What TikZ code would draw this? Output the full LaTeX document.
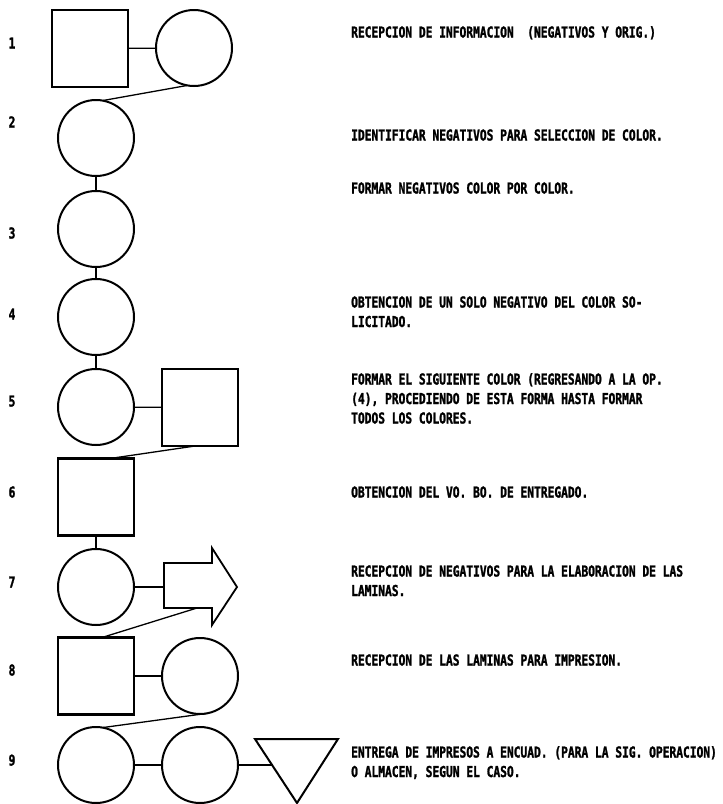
\documentclass[tikz,border=0pt]{standalone}
\usepackage{fontspec}
\newfontfamily\dm[FakeStretch=0.75,FakeBold=1.6]{DejaVu Sans Mono}
\begin{document}
\begin{tikzpicture}[x=1pt,y=-1pt,
  shp/.style={draw, line width=2pt, inner sep=0pt, outer sep=0pt},
  circ/.style={shp, circle, minimum size=76pt},
  sqr/.style={shp, line width=2.4pt, rectangle, minimum width=76pt, minimum height=77pt},
  conn/.style={line width=1.3pt},
  pfont/.style={font=\dm\bfseries\fontsize{15}{18}\selectfont, inner sep=0pt},
  lbl/.style={pfont, anchor=base},
  txt/.style={pfont, anchor=base west}]
\useasboundingbox (0,0) rectangle (723,804);

% row labels
\node[lbl] (l1) at (12,48.5) {1};
\node[lbl] (l2) at (12,127.5) {2};
\node[lbl] (l3) at (12,238.5) {3};
\node[lbl] (l4) at (12,319.5) {4};
\node[lbl] (l5) at (12,406.5) {5};
\node[lbl] (l6) at (12,497.5) {6};
\node[lbl] (l7) at (12,587.5) {7};
\node[lbl] (l8) at (12,675.5) {8};
\node[lbl] (l9) at (12,765.5) {9};

% shapes
\node[sqr] (sq1) at (90,48.5) {};
\node[circ] (c1) at (194,48) {};
\node[circ] (c2) at (96,138) {};
\node[circ] (c3) at (96,229) {};
\node[circ] (c4) at (96,317) {};
\node[circ] (c5) at (96,407) {};
\node[sqr] (sq5) at (200,407.5) {};
\node[sqr] (sq6) at (96,497) {};
\node[circ] (c7) at (96,587) {};
\node[sqr] (sq8) at (96,676) {};
\node[circ] (c8) at (200,676) {};
\node[circ] (c9a) at (96,765) {};
\node[circ] (c9b) at (200,765) {};

% arrow (transport)
\draw[line width=1.8pt, line join=miter]
  (164,563) -- (212,563) -- (212,548) -- (237,587) -- (212,625) -- (212,608) -- (164,608) -- cycle;
\coordinate (a7w) at (164,587);
\coordinate (a7b) at (197,608);

% triangle (storage)
\draw[line width=2pt, line join=miter] (255,739) -- (338,739) -- (297,803) -- cycle;
\coordinate (t9w) at (271.5,765);

% connectors
\draw[conn] (sq1) -- (c1);
\draw[conn] (c1.-100) -- (c2.80);
\draw[conn] (c2) -- (c3);
\draw[conn] (c3) -- (c4);
\draw[conn] (c4) -- (c5);
\draw[conn] (c5) -- (sq5);
\draw[conn] ([xshift=-5pt]sq5.south) -- ([xshift=14pt]sq6.north);
\draw[conn] (sq6) -- (c7);
\draw[conn] (c7) -- (a7w);
\draw[conn] (a7b) -- ([xshift=6pt]sq8.north);
\draw[conn] (sq8) -- (c8);
\draw[conn] (c8.-80) -- (c9a.80);
\draw[conn] (c9a) -- (c9b);
\draw[conn] (c9b) -- (t9w);

% descriptions
\node[txt] (t1) at (351,37.5) {RECEPCION DE INFORMACION~ (NEGATIVOS Y ORIG.)};
\node[txt] (t2) at (351,140.5) {IDENTIFICAR NEGATIVOS PARA SELECCION DE COLOR.};
\node[txt] (t3) at (351,193.5) {FORMAR NEGATIVOS COLOR POR COLOR.};
\node[txt] (t4a) at (351,307.5) {OBTENCION DE UN SOLO NEGATIVO DEL COLOR SO-};
\node[txt] (t4b) at (351,327) {LICITADO.};
\node[txt] (t5a) at (351,384.5) {FORMAR EL SIGUIENTE COLOR (REGRESANDO A LA OP.};
\node[txt] (t5b) at (351,404) {(4), PROCEDIENDO DE ESTA FORMA HASTA FORMAR};
\node[txt] (t5c) at (351,423.5) {TODOS LOS COLORES.};
\node[txt] (t6) at (351,497.5) {OBTENCION DEL VO. BO. DE ENTREGADO.};
\node[txt] (t7a) at (351,576.5) {RECEPCION DE NEGATIVOS PARA LA ELABORACION DE LAS};
\node[txt] (t7b) at (351,596) {LAMINAS.};
\node[txt] (t8) at (351,665.5) {RECEPCION DE LAS LAMINAS PARA IMPRESION.};
\node[txt] (t9a) at (351,757.5) {ENTREGA DE IMPRESOS A ENCUAD. (PARA LA SIG. OPERACION)};
\node[txt] (t9b) at (351,777) {O ALMACEN, SEGUN EL CASO.};
\end{tikzpicture}
\end{document}
